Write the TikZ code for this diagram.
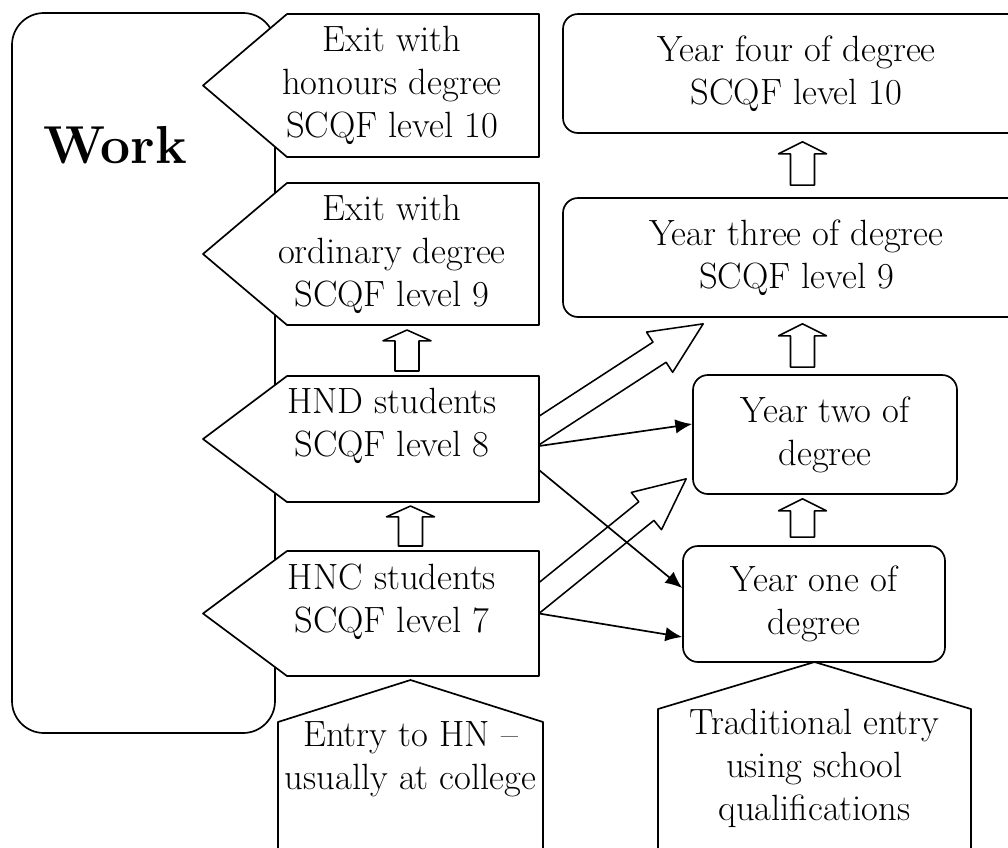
\documentclass[tikz,border=0pt]{standalone}
\usepackage{fontspec}
\usepackage{tikz}
\usetikzlibrary{calc,positioning,arrows.meta}

\pgfdeclarelayer{back}
\pgfsetlayers{back,main}

\tikzset{
  every node/.style={font=\fontsize{26}{30.5}\selectfont},
  boxline/.style={line width=1.2pt, line join=round},
  workbox/.style={draw, boxline, rounded corners=0.8cm, minimum width=6.575cm, minimum height=18cm, inner sep=0},
  worklabel/.style={font=\fontsize{38}{44}\selectfont\bfseries},
  exitbox/.style={minimum width=7.35cm, align=center, inner sep=0, outer sep=0},
  pentline/.style={draw, boxline, fill=white},
  yearbox/.style={draw, boxline, rounded corners=0.375cm, align=center, inner sep=0},
  entrybox/.style={align=center, inner sep=0, outer sep=0, anchor=north},
  thinarrow/.style={boxline, -{Latex[length=0.42cm,width=0.36cm]}},
  blockline/.style={draw, boxline, line width=1.1pt}
}

% hollow block arrow: tail, tip, head length
\newcommand{\blockarrow}[3]{%
  \coordinate (ba-t) at #1;
  \coordinate (ba-p) at #2;
  \coordinate (ba-h) at ($(ba-p)!#3!(ba-t)$);
  \draw[blockline] ($(ba-t)!0.3cm!90:(ba-p)$) -- ($(ba-h)!0.3cm!90:(ba-p)$) -- ($(ba-h)!0.6cm!90:(ba-p)$)
    -- (ba-p) -- ($(ba-h)!0.6cm!-90:(ba-p)$) -- ($(ba-h)!0.3cm!-90:(ba-p)$) -- ($(ba-t)!0.3cm!-90:(ba-p)$) -- cycle;}

\begin{document}
\begin{tikzpicture}
	\useasboundingbox (0,0) rectangle (25.2,-21.175);
	\clip (0,0) rectangle (25.2,-21.175);

	% college route
	\node[exitbox, minimum height=3.575cm] (hon) at (9.8,-2.1375) {Exit with\\honours degree\\SCQF level 10};
	\node[exitbox, minimum height=3.55cm] (ord) at (9.8,-6.35) {Exit with\\ordinary degree\\SCQF level 9};
	\node[exitbox, minimum height=3.15cm, text depth=0.85cm] (hnd) at (9.8,-10.975) {HND students\\SCQF level 8};
	\node[exitbox, minimum height=3.125cm, text depth=0.75cm] (hnc) at (9.8,-15.3375) {HNC students\\SCQF level 7};
	\node[entrybox, minimum width=6.625cm] (hn) at (10.2625,-18.05) {Entry to HN --\\usually at college};

	% university route
	\node[yearbox, minimum width=11.675cm, minimum height=2.975cm] (y4) at (19.9125,-1.8375) {Year four of degree\\SCQF level 10};
	\node[yearbox, minimum width=11.675cm, minimum height=2.975cm] (y3) at (19.9125,-6.4375) {Year three of degree\\SCQF level 9};
	\node[yearbox, minimum width=6.6cm, minimum height=2.975cm] (y2) at (20.625,-10.8625) {Year two of\\degree};
	\node[yearbox, minimum width=6.55cm, minimum height=2.9cm] (y1) at (20.35,-15.1) {Year one of\\degree};
	\node[entrybox, minimum width=7.825cm] (trad) at (20.3625,-17.725) {Traditional entry\\using school\\qualifications};

	\draw[boxline] ($(hn.north west)+(0,-4)$) -- (hn.north west) -- ($(hn.north)+(0,1.05)$) -- (hn.north east) -- ++(0,-4);
	\draw[boxline] ($(trad.north west)+(0,-4)$) -- (trad.north west) -- ($(trad.north)+(0,1.175)$) -- (trad.north east) -- ++(0,-4);

	\begin{pgfonlayer}{back}
		\node[workbox] (work) at (3.5875,-9.325) {};
		\node[worklabel] (worktxt) at (2.875,-3.625) {Work};

		\blockarrow{($(hnd.east)+(-1.25,-0.6)$)}{($(y3.south west)+(3.525,-0.15)$)}{1.3cm}
		\blockarrow{($(hnc.east)+(-1.25,-0.625)$)}{($(y2.south west)+(-0.15,0.4)$)}{1.28cm}

		\foreach \n in {hon,ord,hnd,hnc}
			\draw[pentline] (\n.north east) -- ($(\n.north west)+(1.05,0)$) -- ($(\n.west)+(-1.05,0)$)
				-- ($(\n.south west)+(1.05,0)$) -- (\n.south east) -- cycle;
	\end{pgfonlayer}

	% step up arrows
	\blockarrow{($(hnd.north)+(0.375,0.125)$)}{($(ord.south)+(0.375,-0.125)$)}{0.27cm}
	\blockarrow{($(hnc.north)+(0.4625,0.125)$)}{($(hnd.south)+(0.4625,-0.1)$)}{0.27cm}
	\blockarrow{($(y3.north)+(0.15,0.3)$)}{($(y4.south)+(0.15,-0.2)$)}{0.3cm}
	\blockarrow{($(y2.north)+(-0.5625,0.175)$)}{($(y3.south)+(0.15,-0.15)$)}{0.3cm}
	\blockarrow{($(y1.north)+(-0.2875,0.2)$)}{($(y2.south)+(-0.5625,-0.1)$)}{0.3cm}

	\draw[thinarrow] ($(hnd.east)+(0,-0.175)$) -- ($(y2.west)+(0,0.2625)$);
	\draw[thinarrow] ($(hnd.east)+(0,-0.775)$) -- ($(y1.west)+(0,0.4)$);
	\draw[thinarrow] (hnc.east) -- ($(y1.west)+(0,-0.825)$);
\end{tikzpicture}
\end{document}
